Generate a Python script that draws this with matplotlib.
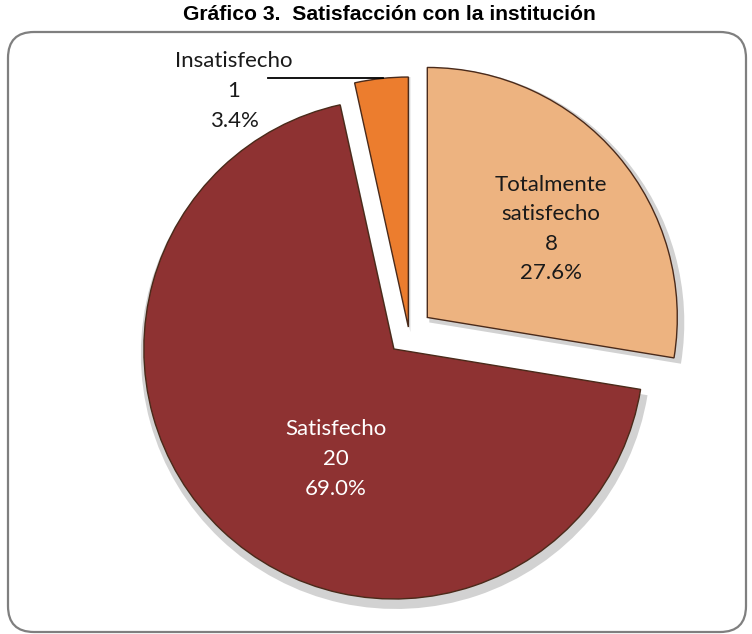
import matplotlib
matplotlib.use("Agg")
import matplotlib.pyplot as plt
from matplotlib.patches import Wedge, FancyBboxPatch

# Datos del gráfico
categorias = ["Totalmente\nsatisfecho", "Satisfecho", "Insatisfecho"]
valores = [8, 20, 1]
colores = ["#EDB380", "#8E3232", "#EC7D2E"]
colores_texto = ["#1a1a1a", "white", "#1a1a1a"]
separacion = [24, 22, 6]   # en píxeles (explode de matplotlib va en unidades de datos)

titulo = "Gráfico 3.  Satisfacción con la institución"

ANCHO, ALTO = 752, 634
fig = plt.figure(figsize=(ANCHO / 100, ALTO / 100), dpi=100)
ax = fig.add_axes([0, 0, 1, 1])

total = sum(valores)
wedges, _ = ax.pie(
    valores,
    colors=colores,
    explode=separacion,
    startangle=90,
    counterclock=False,
    center=(409, ALTO - 333),
    radius=250,
    wedgeprops=dict(edgecolor="#4a2a1a", linewidth=1.0),
)

# sombra gris debajo de cada porción
for w in wedges:
    cx, cy = w.center
    sombra = Wedge((cx + 2, cy - 5), w.r + 5, w.theta1, w.theta2,
                   facecolor="#d2d2d2", edgecolor="none", zorder=0)
    ax.add_patch(sombra)
    w.set_zorder(2)

# etiquetas dentro / fuera de las porciones
fuente = ["Lato", "DejaVu Sans"]
pos_etiquetas = [(551, 229), (336, 459), (234, 91)]
for cat, v, col, (x, y) in zip(categorias, valores, colores_texto, pos_etiquetas):
    pct = v / total * 100
    ax.text(x, ALTO - y, f"{cat}\n{v}\n{pct:.1f}%", ha="center", va="center",
            color=col, fontsize=16, family=fuente, linespacing=1.6, zorder=5)

# línea guía de Insatisfecho
ax.plot([268, 383], [ALTO - 78, ALTO - 78], color="black", lw=1.3, zorder=5)

# marco redondeado
marco = FancyBboxPatch((8, ALTO - 632), 738, 600,
                       boxstyle="round,pad=0,rounding_size=26",
                       facecolor="none", edgecolor="#7f7f7f", lw=1.6, zorder=1)
ax.add_patch(marco)

ax.text(389, ALTO - 15, titulo, ha="center", va="center",
        fontsize=15.2, fontweight="bold", family=["Liberation Sans", "DejaVu Sans"])

ax.set_xlim(0, ANCHO)
ax.set_ylim(0, ALTO)
ax.set_aspect("auto")
ax.axis("off")

fig.savefig("out.png", dpi=100)
